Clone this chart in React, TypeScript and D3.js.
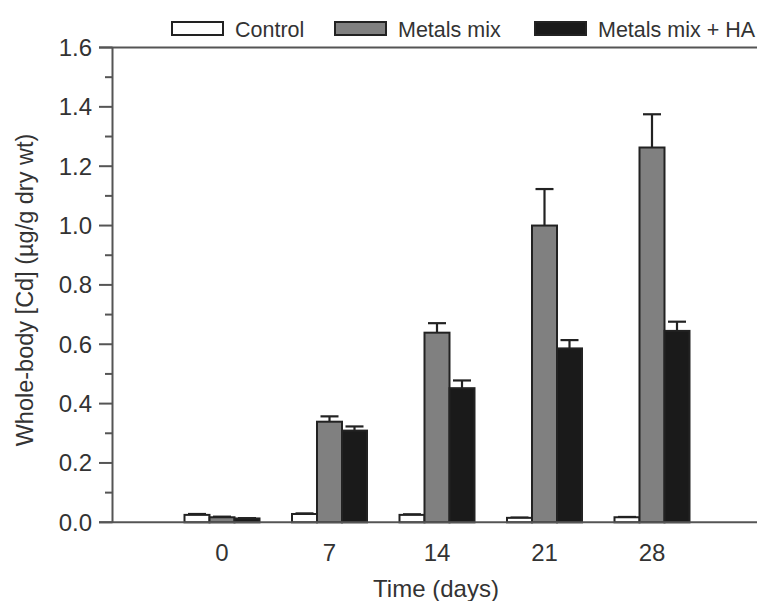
import React from "react";
import * as d3 from "d3";

const days = [0, 7, 14, 21, 28];
const seriesNames = ["Control", "Metals mix", "Metals mix + HA"];
const control = [0.025, 0.028, 0.025, 0.015, 0.017];
const controlErr = [0.003, 0.002, 0.002, 0.001, 0.001];
const metals = [0.017, 0.339, 0.639, 1.0, 1.263];
const metalsErr = [0.002, 0.018, 0.032, 0.123, 0.112];
const metalsHA = [0.013, 0.309, 0.452, 0.586, 0.645];
const metalsHAErr = [0.001, 0.014, 0.026, 0.028, 0.031];
const yMajorTicks = [0, 0.2, 0.4, 0.6, 0.8, 1.0, 1.2, 1.4, 1.6];
const yMinorTicks = [0.1, 0.3, 0.5, 0.7, 0.9, 1.1, 1.3, 1.5];

const W = 757;
const H = 601;
const FONT = "'Liberation Sans', Arial, sans-serif";
const TEXT = "#333";
const AXIS = "#555";
const fills = ["#ffffff", "#808080", "#1a1a1a"];

export default function App() {
  const x = d3.scaleLinear().domain([-7, 35]).range([114.5, 759.5]);
  const y = d3.scaleLinear().domain([0, 1.6]).range([522.3, 47.5]);
  const barW = 25;
  const values = [control, metals, metalsHA];
  const errs = [controlErr, metalsErr, metalsHAErr];
  const offsets = [-1.5, -0.5, 0.5];
  const axisX = 112.5;
  const legendBoxes = [172, 335, 535];

  return (
    <svg
      width={W}
      height={H}
      style={{ position: "absolute", left: 0, top: 0, background: "#fff" }}
      fontFamily={FONT}
    >
      <rect x={0} y={0} width={W} height={H} fill="#fff" />
      {/* bars */}
      {days.map((d, i) =>
        values.map((vals, s) => {
          const x0 = x(d) + offsets[s] * barW;
          const top = y(vals[i]);
          const cx = x0 + barW / 2;
          const eTop = y(vals[i] + errs[s][i]);
          return (
            <g key={`${i}-${s}`}>
              <line x1={cx} x2={cx} y1={top} y2={eTop} stroke="#222" strokeWidth={2.2} />
              <line x1={cx - 9} x2={cx + 9} y1={eTop} y2={eTop} stroke="#222" strokeWidth={2.2} />
              <rect
                x={x0}
                y={top}
                width={barW}
                height={y(0) - top}
                fill={fills[s]}
                stroke="#222"
                strokeWidth={2}
              />
            </g>
          );
        })
      )}
      {/* frame lines */}
      <line x1={99} x2={W} y1={y(1.6)} y2={y(1.6)} stroke={AXIS} strokeWidth={2} />
      <line x1={99} x2={W} y1={y(0)} y2={y(0)} stroke={AXIS} strokeWidth={2} />
      <line x1={axisX} x2={axisX} y1={y(1.6)} y2={y(0)} stroke={AXIS} strokeWidth={2} />
      {yMajorTicks.map((t) => (
        <g key={`M${t}`}>
          <line x1={99} x2={axisX} y1={y(t)} y2={y(t)} stroke={AXIS} strokeWidth={2} />
          <text
            x={92}
            y={y(t)}
            dy="0.35em"
            textAnchor="end"
            fontSize={24}
            fill={TEXT}
          >
            {t.toFixed(1)}
          </text>
        </g>
      ))}
      {yMinorTicks.map((t) => (
        <line key={`m${t}`} x1={105} x2={axisX} y1={y(t)} y2={y(t)} stroke={AXIS} strokeWidth={2} />
      ))}
      {days.map((d) => (
        <text key={`x${d}`} x={x(d)} y={560.5} textAnchor="middle" fontSize={24} fill={TEXT}>
          {d}
        </text>
      ))}
      <text x={436} y={597} textAnchor="middle" fontSize={24} fill={TEXT}>
        Time (days)
      </text>
      <text
        transform={`translate(25, 290) rotate(-90)`}
        textAnchor="middle"
        dy="0.35em"
        fontSize={23.5}
        fill={TEXT}
      >
        Whole-body [Cd] (µg/g dry wt)
      </text>
      {/* legend */}
      {seriesNames.map((name, s) => (
        <g key={name}>
          <rect
            x={legendBoxes[s]}
            y={22}
            width={51}
            height={13}
            fill={fills[s]}
            stroke="#222"
            strokeWidth={2}
          />
          <text x={legendBoxes[s] + 63} y={36.5} fontSize={21.5} fill={TEXT}>
            {name}
          </text>
        </g>
      ))}
    </svg>
  );
}
